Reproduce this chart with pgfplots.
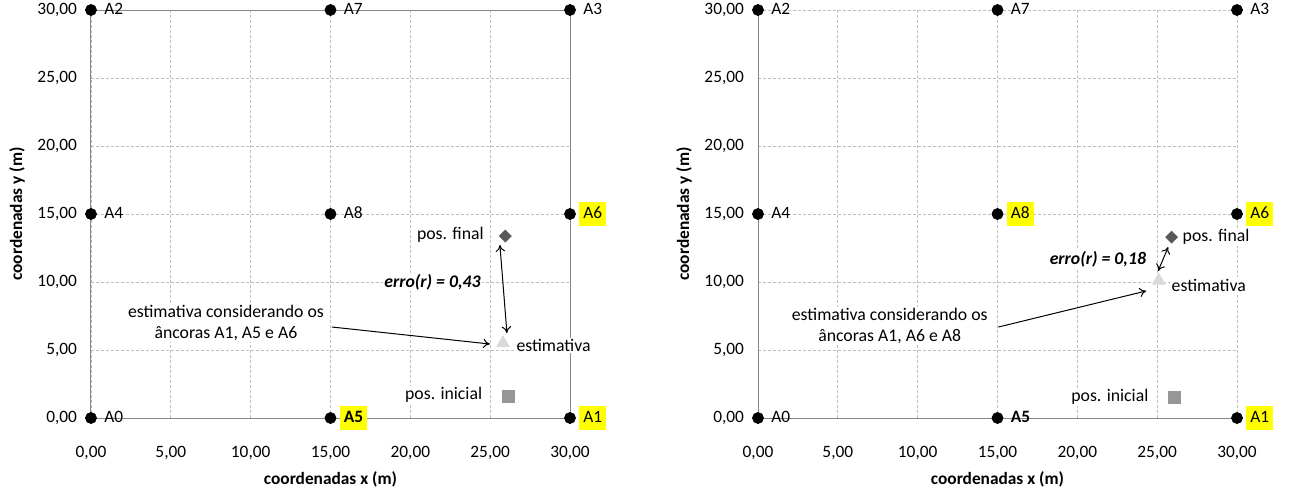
\documentclass[border=0pt]{standalone}
\usepackage{pgfplots}
\pgfplotsset{compat=1.18}
\usepackage{fontspec}
\setmainfont{Carlito}
\usetikzlibrary{arrows.meta}
\definecolor{gridgray}{HTML}{BFBFBF}
\definecolor{axgray}{HTML}{868686}
\definecolor{finalc}{HTML}{595959}
\definecolor{estc}{HTML}{D9D9D9}
\definecolor{inic}{HTML}{969696}
\definecolor{hly}{HTML}{FFFF00}
\newcommand{\fs}{\fontsize{13}{15}\selectfont}
\newcommand{\fa}{\fontsize{13.3}{15.5}\selectfont}
\pgfplotsset{
 myax/.style={
  scale only axis, width=359.25pt, height=306pt,
  xmin=0,xmax=30,ymin=0,ymax=30, enlargelimits=false, clip=false,
  xtick={0,5,...,30}, ytick={0,5,...,30},
  axis x line=bottom, axis y line=left,
  axis line style={-, draw=axgray, line width=0.75pt},
  major tick length=0pt,
  grid=major, major grid style={gridgray, dash pattern=on 2.25pt off 1.5pt, line width=0.6pt},
  /pgf/number format/fixed, /pgf/number format/fixed zerofill,
  /pgf/number format/precision=2, /pgf/number format/use comma,
  /pgf/number format/assume math mode=true,
  tick label style={font=\fs, black},
  xticklabel style={yshift=-18pt},
  yticklabel style={xshift=-7pt},
  xlabel={coordenadas x (m)}, ylabel={coordenadas y (m)},
  every axis x label/.style={at={(axis description cs:0.5,-0.1495)}, anchor=center, font=\fs\bfseries},
  every axis y label/.style={at={(axis description cs:-0.1545,0.5)}, anchor=center, rotate=90, font=\fs\bfseries},
 },
 anchm/.style={only marks, mark=*, mark size=4.2pt, mark options={fill=black, draw=black}},
 finm/.style={only marks, mark=square*, mark size=3.2pt, mark options={rotate=45, fill=finalc, draw=finalc}},
 estm/.style={only marks, mark=triangle*, mark size=5.6pt, mark options={fill=estc, draw=estc}},
 inim/.style={only marks, mark=square*, mark size=4.5pt, mark options={fill=inic, draw=inic}},
}
\tikzset{
 anc/.style={anchor=west, xshift=6.75pt, inner xsep=3pt, inner ysep=2.6pt, text height=10pt, text depth=3.5pt, font=\fs},
 hl/.style={fill=hly},
 lbl/.style={font=\fa, fill=white, inner sep=1pt},
 arr/.style={line width=0.75pt, -{To[length=5pt,width=7pt]}},
 darr/.style={line width=0.75pt, {To[length=5pt,width=7pt]}-{To[length=5pt,width=7pt]}},
}
\begin{document}
\begin{tikzpicture}
\useasboundingbox (-68.25pt,-58.5pt) rectangle (901.5pt,313.5pt);
% ---------------- left chart
\begin{axis}[myax, at={(0pt,0pt)}, anchor=south west]
\addplot[axgray, line width=0.75pt] coordinates {(0,30) (30,30) (30,0)};
\node[anc] at (axis cs:0,0) {A0};
\node[anc, hl] at (axis cs:30,0) {A1};
\node[anc] at (axis cs:0,30) {A2};
\node[anc] at (axis cs:30,30) {A3};
\node[anc] at (axis cs:0,15) {A4};
\node[anc, hl] at (axis cs:15,0) {\textbf{A5}};
\node[anc, hl] at (axis cs:30,15) {A6};
\node[anc] at (axis cs:15,30) {A7};
\node[anc] at (axis cs:15,15) {A8};
\node[lbl, align=center] at (axis cs:8.45,7.0) {estimativa considerando os\\âncoras A1, A5 e A6};
\node[lbl, anchor=east, font=\fa\bfseries\itshape] at (axis cs:24.5,10.0) {erro(r) = 0,43};
\node[lbl, anchor=east] at (axis cs:24.7,13.45) {pos. final};
\node[lbl, anchor=west] at (axis cs:26.55,5.3) {estimativa};
\node[lbl, anchor=east] at (axis cs:24.6,1.7) {pos. inicial};
\addplot[anchm] coordinates {(0,0) (30,0) (0,30) (30,30) (0,15) (15,0) (30,15) (15,30) (15,15)};
\addplot[finm] coordinates {(25.95,13.38)};
\addplot[estm] coordinates {(25.8,5.5)};
\addplot[inim] coordinates {(26.15,1.57)};
\draw[arr] (axis cs:15.09,6.69) -- (axis cs:24.98,5.44);
\draw[darr] (axis cs:25.61,12.72) -- (axis cs:26.05,6.25);
\end{axis}
% ---------------- right chart
\begin{axis}[myax, at={(500.25pt,0pt)}, anchor=south west]
\node[anc] at (axis cs:0,0) {A0};
\node[anc, hl] at (axis cs:30,0) {A1};
\node[anc] at (axis cs:0,30) {A2};
\node[anc] at (axis cs:30,30) {A3};
\node[anc] at (axis cs:0,15) {A4};
\node[anc] at (axis cs:15,0) {\textbf{A5}};
\node[anc, hl] at (axis cs:30,15) {A6};
\node[anc] at (axis cs:15,30) {A7};
\node[anc, hl] at (axis cs:15,15) {A8};
\node[lbl, align=center] at (axis cs:8.25,6.76) {estimativa considerando os\\âncoras A1, A6 e A8};
\node[lbl, anchor=east, font=\fa\bfseries\itshape] at (axis cs:24.4,11.69) {erro(r) = 0,18};
\node[lbl, anchor=west] at (axis cs:26.5,13.31) {pos. final};
\node[lbl, anchor=west] at (axis cs:25.81,9.78) {estimativa};
\node[lbl, anchor=east] at (axis cs:24.55,1.54) {pos. inicial};
\addplot[anchm] coordinates {(0,0) (30,0) (0,30) (30,30) (0,15) (15,0) (30,15) (15,30) (15,15)};
\addplot[finm] coordinates {(25.9,13.3)};
\addplot[estm] coordinates {(25.1,10.1)};
\addplot[inim] coordinates {(26.1,1.55)};
\draw[arr] (axis cs:15.06,6.69) -- (axis cs:24.31,9.34);
\draw[darr] (axis cs:25.06,10.81) -- (axis cs:25.69,12.57);
\end{axis}
\end{tikzpicture}
\end{document}
